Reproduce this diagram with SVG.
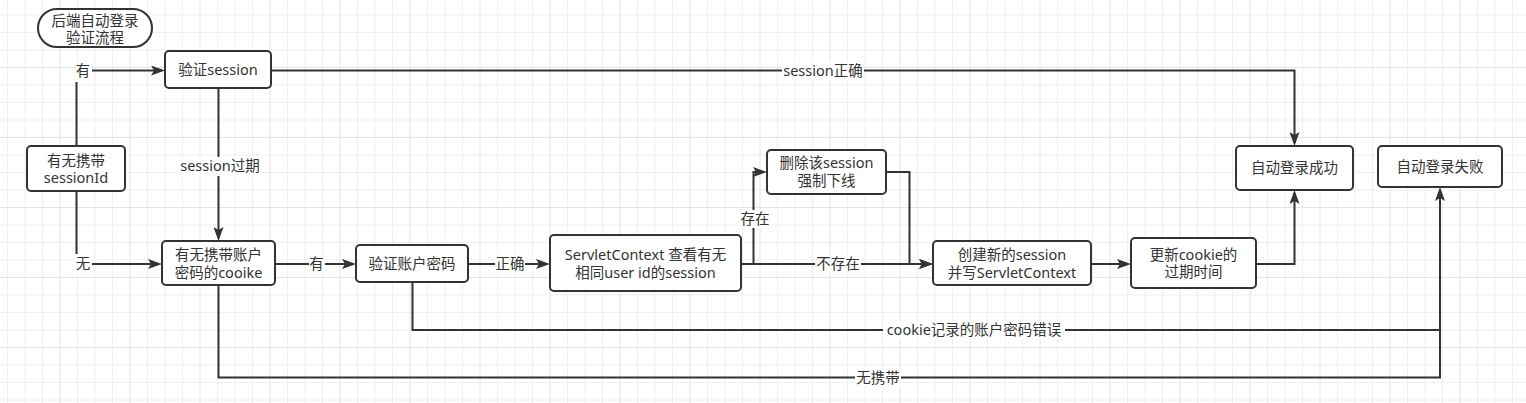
<svg xmlns="http://www.w3.org/2000/svg" width="1526" height="403" viewBox="0 0 1526 403">
<defs>
<style>
.grid-minor{fill:none;stroke:#efefef;stroke-width:1}
.grid-major{fill:none;stroke:#e4e4e4;stroke-width:1}
.node rect{fill:#fff;stroke:#333;stroke-width:2}
.t{font-family:"Noto Sans","Noto Sans CJK SC",sans-serif;font-size:14.5px;fill:#333;text-anchor:middle}
.edge{fill:none;stroke:#333;stroke-width:2}
.lb{fill:#fff}
</style>
<marker id="arr" markerUnits="userSpaceOnUse" markerWidth="14" markerHeight="10" viewBox="0 0 14 10" refX="11" refY="5" orient="auto">
<path d="M0,0 L14,5 L0,10 L3,5 Z" fill="#333"/>
</marker>
</defs>
<rect width="1526" height="403" fill="#fff"/>
<g id="grid">
<path class="grid-minor" d="M7.5 0V403M25 0V403M42.5 0V403M77.5 0V403M95 0V403M112.5 0V403M147.5 0V403M165 0V403M182.5 0V403M217.5 0V403M235 0V403M252.5 0V403M287.5 0V403M305 0V403M322.5 0V403M357.5 0V403M375 0V403M392.5 0V403M427.5 0V403M445 0V403M462.5 0V403M497.5 0V403M515 0V403M532.5 0V403M567.5 0V403M585 0V403M602.5 0V403M637.5 0V403M655 0V403M672.5 0V403M707.5 0V403M725 0V403M742.5 0V403M777.5 0V403M795 0V403M812.5 0V403M847.5 0V403M865 0V403M882.5 0V403M917.5 0V403M935 0V403M952.5 0V403M987.5 0V403M1005 0V403M1022.5 0V403M1057.5 0V403M1075 0V403M1092.5 0V403M1127.5 0V403M1145 0V403M1162.5 0V403M1197.5 0V403M1215 0V403M1232.5 0V403M1267.5 0V403M1285 0V403M1302.5 0V403M1337.5 0V403M1355 0V403M1372.5 0V403M1407.5 0V403M1425 0V403M1442.5 0V403M1477.5 0V403M1495 0V403M1512.5 0V403M0 15H1526M0 32.5H1526M0 50H1526M0 85H1526M0 102.5H1526M0 120H1526M0 155H1526M0 172.5H1526M0 190H1526M0 225H1526M0 242.5H1526M0 260H1526M0 295H1526M0 312.5H1526M0 330H1526M0 365H1526M0 382.5H1526M0 400H1526"/>
<path class="grid-major" d="M60 0V403M130 0V403M200 0V403M270 0V403M340 0V403M410 0V403M480 0V403M550 0V403M620 0V403M690 0V403M760 0V403M830 0V403M900 0V403M970 0V403M1040 0V403M1110 0V403M1180 0V403M1250 0V403M1320 0V403M1390 0V403M1460 0V403M0 67.5H1526M0 137.5H1526M0 207.5H1526M0 277.5H1526M0 347.5H1526"/>
</g>
<g id="connectors">
<path class="edge" d="M76.5,146 V70.5 H162" marker-end="url(#arr)"/>
<path class="edge" d="M76.5,191 V264 H159" marker-end="url(#arr)"/>
<path class="edge" d="M218.5,88 V238" marker-end="url(#arr)"/>
<path class="edge" d="M271,70.5 H1294.5 V143" marker-end="url(#arr)"/>
<path class="edge" d="M275,264 H353" marker-end="url(#arr)"/>
<path class="edge" d="M468,264 H547" marker-end="url(#arr)"/>
<path class="edge" d="M412.5,282 V330 H1440"/>
<path class="edge" d="M741,264 H753.5 V172 H764" marker-end="url(#arr)"/>
<path class="edge" d="M741,264 H930" marker-end="url(#arr)"/>
<path class="edge" d="M886,172 H909.5 V264 H930" marker-end="url(#arr)"/>
<path class="edge" d="M1091,264 H1128" marker-end="url(#arr)"/>
<path class="edge" d="M1256,264 H1294.5 V193" marker-end="url(#arr)"/>
<path class="edge" d="M218.5,285 V377.5 H1440 V190" marker-end="url(#arr)"/>
<g id="edge-labels">
<rect class="lb" x="75" y="61" width="17" height="21"/><text class="t" x="83" y="76">有</text>
<rect class="lb" x="75" y="254" width="17" height="20"/><text class="t" x="83" y="269">无</text>
<rect class="lb" x="179" y="157" width="82" height="19"/><text class="t" x="220" y="171">session过期</text>
<rect class="lb" x="782" y="61" width="82" height="19"/><text class="t" x="823" y="75.5">session正确</text>
<rect class="lb" x="309" y="255" width="16" height="18"/><text class="t" x="316.5" y="269">有</text>
<rect class="lb" x="495" y="255" width="30" height="18"/><text class="t" x="510" y="269">正确</text>
<rect class="lb" x="883" y="321" width="182" height="18"/><text class="t" x="974" y="335">cookie记录的账户密码错误</text>
<rect class="lb" x="740" y="210" width="30" height="18"/><text class="t" x="755" y="224">存在</text>
<rect class="lb" x="815" y="255" width="46" height="18"/><text class="t" x="838" y="269">不存在</text>
<rect class="lb" x="855" y="368.5" width="46" height="18"/><text class="t" x="878" y="382.5">无携带</text>
</g>
</g>
<g id="n-title" class="node"><rect x="38" y="9" width="114" height="38" rx="19"/><text class="t" x="95" y="25.5">后端自动登录</text><text class="t" x="95" y="42.5">验证流程</text></g>
<g id="n-verify-session" class="node"><rect x="165" y="51" width="106" height="37" rx="4"/><text class="t" x="218" y="75">验证session</text></g>
<g id="n-has-sessionid" class="node"><rect x="27" y="146" width="98" height="45" rx="4"/><text class="t" x="76" y="166">有无携带</text><text class="t" x="76" y="183">sessionId</text></g>
<g id="n-has-cookie" class="node"><rect x="162" y="241" width="113" height="44" rx="4"/><text class="t" x="218.5" y="260">有无携带账户</text><text class="t" x="218.5" y="277.5">密码的cooike</text></g>
<g id="n-verify-pwd" class="node"><rect x="356" y="245" width="112" height="37" rx="4"/><text class="t" x="412" y="268.5">验证账户密码</text></g>
<g id="n-servletcontext" class="node"><rect x="550" y="235" width="191" height="56" rx="4"/><text class="t" x="645.5" y="260">ServletContext 查看有无</text><text class="t" x="645.5" y="277.5">相同user id的session</text></g>
<g id="n-delete" class="node"><rect x="767" y="150" width="119" height="44" rx="4"/><text class="t" x="826.5" y="168">删除该session</text><text class="t" x="826.5" y="186">强制下线</text></g>
<g id="n-create" class="node"><rect x="933" y="241" width="158" height="44" rx="4"/><text class="t" x="1012" y="260">创建新的session</text><text class="t" x="1012" y="278">并写ServletContext</text></g>
<g id="n-update" class="node"><rect x="1131" y="238" width="125" height="50" rx="4"/><text class="t" x="1193.5" y="260">更新cookie的</text><text class="t" x="1193.5" y="277">过期时间</text></g>
<g id="n-success" class="node"><rect x="1236" y="146" width="117" height="44" rx="4"/><text class="t" x="1294.5" y="173">自动登录成功</text></g>
<g id="n-fail" class="node"><rect x="1378" y="146" width="124" height="41" rx="4"/><text class="t" x="1440" y="171.5">自动登录失败</text></g>
</svg>
